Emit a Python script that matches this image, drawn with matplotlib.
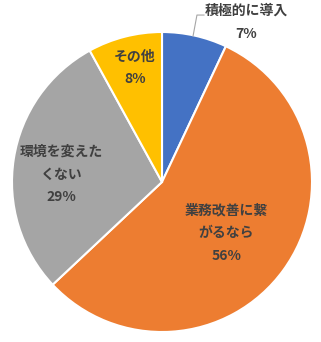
import matplotlib
matplotlib.use('Agg')
import matplotlib.pyplot as plt

plt.rcParams['font.family'] = ['Noto Sans CJK JP', 'DejaVu Sans']

labels = ['積極的に導入', '業務改善に繋\nがるなら', '環境を変えた\nくない', 'その他']
values = [7, 56, 29, 8]
colors = ['#4472C4', '#ED7D31', '#A5A5A5', '#FFC000']

# label block centres in data units (pie radius 1)
label_pos = [(0.56, 1.065), (0.43, -0.34), (-0.67, 0.05), (-0.18, 0.76)]

W, H = 321, 342
fig = plt.figure(figsize=(W / 100, H / 100), dpi=100)
cx, cy, r = 162, 182, 150
ax = fig.add_axes([(cx - r) / W, (H - cy - r) / H, 2 * r / W, 2 * r / H])

ax.pie(values, colors=colors, startangle=90, counterclock=False, radius=1,
       wedgeprops=dict(edgecolor='white', linewidth=1.5))
ax.set_xlim(-1, 1)
ax.set_ylim(-1, 1)
ax.axis('off')

for lab, v, (x, y) in zip(labels, values, label_pos):
    ax.text(x, y, f"{lab}\n{v}%", ha='center', va='center', fontsize=10,
            fontweight='bold', color='#404040', linespacing=1.8, clip_on=False)

# leader line for the small blue slice
ax.plot([0.207, 0.233, 0.28], [0.973, 1.113, 1.113], color='#A6A6A6',
        lw=0.8, clip_on=False)

fig.savefig('out.png', dpi=100)
